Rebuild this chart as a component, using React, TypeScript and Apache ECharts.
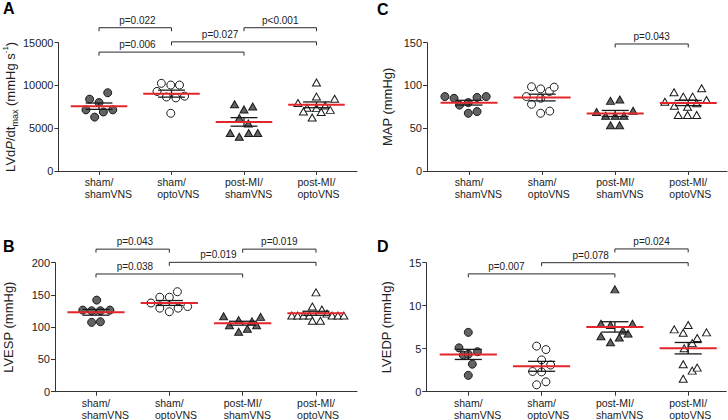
import { useEffect, useRef } from 'react';
import * as echarts from 'echarts';

const FONT = '"Liberation Sans", Arial, Helvetica, sans-serif';

const categories = ['sham/\nshamVNS', 'sham/\noptoVNS', 'post-MI/\nshamVNS', 'post-MI/\noptoVNS'];
const catIndex = [0, 1, 2, 3];

// Panel A: LVdP/dtmax (mmHg s-1)
const aShamSham = [9150, 8400, 8000, 7150, 6900, 7150, 6300];
const aShamShamJit = [0.12, -0.13, 0, -0.18, 0.06, 0.19, -0.06];
const aShamOpto = [10250, 10050, 10050, 9300, 8650, 8550, 8750, 6750];
const aShamOptoJit = [-0.14, -0.01, 0.11, -0.2, -0.07, 0.06, 0.18, -0.01];
const aMiSham = [7800, 7200, 7550, 6200, 5550, 4450, 4000, 4450, 4450];
const aMiShamJit = [-0.13, 0, 0.12, -0.065, 0.06, -0.19, -0.065, 0.065, 0.19];
const aMiOpto = [10350, 8700, 8450, 7950, 7400, 7350, 7650, 6950, 6900, 7150, 6250];
const aMiOptoJit = [0, 0, 0.25, -0.255, -0.13, 0, 0.12, -0.18, 0.065, 0.19, -0.06];
const aTicks = { max: 15000, interval: 5000 };
const aBrackets = [
  { from: 0, to: 1, level: 16750, labelAt: 0.53, text: 'p=0.022' },
  { from: 2, to: 3, level: 16750, labelAt: 2.5, text: 'p<0.001' },
  { from: 1, to: 3, level: 15100, labelAt: 1.67, text: 'p=0.027' },
  { from: 0, to: 2, level: 13900, labelAt: 0.53, text: 'p=0.006' },
];

// Panel B: LVESP (mmHg)
const bShamSham = [142, 126.5, 125.5, 125.5, 126.5, 107.5, 108.5];
const bShamShamJit = [0.01, -0.18, -0.06, 0.06, 0.19, -0.06, 0.06];
const bShamOpto = [155, 137.5, 146.5, 146.5, 129.5, 124, 129.5, 132];
const bShamOptoJit = [0.11, -0.25, -0.13, 0, -0.13, 0, 0.12, 0.25];
const bMiSham = [117, 111, 116, 103, 109, 103, 97.5, 93];
const bMiShamJit = [-0.26, -0.055, 0.245, -0.18, 0.127, 0.19, 0.064, -0.055];
const bMiOpto = [154, 132, 127.5, 118, 118, 118, 118, 121, 118, 118, 118, 110, 110];
const bMiOptoJit = [0, -0.05, 0.08, -0.33, -0.25, -0.17, -0.09, 0.15, 0.22, 0.3, 0.38, -0.05, 0.06];
const bTicks = { max: 200, interval: 50 };
const bBrackets = [
  { from: 0, to: 1, level: 221, labelAt: 0.53, text: 'p=0.043' },
  { from: 2, to: 3, level: 221, labelAt: 2.5, text: 'p=0.019' },
  { from: 1, to: 3, level: 200.6, labelAt: 1.67, text: 'p=0.019' },
  { from: 0, to: 2, level: 182.5, labelAt: 0.53, text: 'p=0.038' },
];

// Panel C: MAP (mmHg)
const cShamSham = [87, 85, 77, 80, 86, 87, 67.5, 69.5];
const cShamShamJit = [-0.33, -0.205, -0.13, -0.01, 0.11, 0.235, -0.01, 0.11];
const cShamOpto = [98.5, 96, 93, 98, 87, 85, 78, 67.5, 70];
const cShamOptoJit = [-0.145, -0.02, 0.1, 0.165, -0.215, -0.02, -0.145, -0.02, 0.105];
const cMiSham = [82, 83.5, 69, 70.5, 64.5, 64.5, 64.5, 53.5, 53.5];
const cMiShamJit = [-0.064, 0.063, -0.255, 0.245, -0.13, 0, 0.12, -0.064, 0.06];
const cMiOpto = [96.7, 92, 87, 87, 81, 83, 76.3, 75.2, 79.2, 65.5, 65.5, 65.5];
const cMiOptoJit = [0.183, -0.195, -0.068, 0.06, -0.32, 0.25, -0.19, -0.01, 0.115, -0.137, -0.01, 0.115];
const cTicks = { max: 150, interval: 50 };
const cBrackets = [{ from: 2, to: 3, level: 148.5, labelAt: 2.5, text: 'p=0.043' }];

// Panel D: LVEDP (mmHg)
const dShamSham = [6.9, 5.1, 4.65, 4.25, 4.35, 3.2, 1.9];
const dShamShamJit = [0, -0.127, 0.125, -0.068, 0, 0.055, 0];
const dShamOpto = [5.3, 4.9, 3.7, 3.1, 2.35, 2.3, 1.15, 0.8];
const dShamOptoJit = [-0.068, 0.059, 0, 0.123, -0.123, 0, 0.059, -0.068];
const dMiSham = [11.9, 7.9, 7.75, 7.9, 7.1, 6.75, 6.45, 6.3, 5.75];
const dMiShamJit = [0, -0.19, -0.06, 0.24, 0.11, 0.18, -0.19, 0.06, -0.06];
const dMiOpto = [7.25, 7.75, 6.85, 6.9, 6.25, 5.65, 5.05, 3.2, 2.45, 2.8, 1.5];
const dMiOptoJit = [-0.19, 0, -0.068, 0.25, 0.123, 0.055, -0.055, -0.068, 0.055, 0.123, -0.068];
const dTicks = { max: 15, interval: 5 };
const dBrackets = [
  { from: 2, to: 3, level: 16.6, labelAt: 2.5, text: 'p=0.024' },
  { from: 1, to: 3, level: 15, labelAt: 1.67, text: 'p=0.078' },
  { from: 0, to: 2, level: 13.7, labelAt: 0.52, text: 'p=0.007' },
];

const RED = '#e3262b';
const INK = '#1a1a1a';
const AXIS = '#333333';
const GRAY_FILL = '#636363';
const CAT_FONT_SIZE = 10.5;

type Bracket = { from: number; to: number; level: number; labelAt: number; text: string };

function stats(v: number[]) {
  const n = v.length;
  const m = v.reduce((a, b) => a + b, 0) / n;
  const sd = Math.sqrt(v.reduce((a, b) => a + (b - m) * (b - m), 0) / (n - 1));
  return [m, sd / Math.sqrt(n)];
}

let measureCtx: CanvasRenderingContext2D | null = null;
function measure(t: string, size: number) {
  if (!measureCtx) measureCtx = document.createElement('canvas').getContext('2d');
  if (!measureCtx) return t.length * size * 0.55;
  measureCtx.font = `${size}px ${FONT}`;
  return measureCtx.measureText(t).width;
}

const panels = [
  {
    key: 'A',
    groups: [[aShamSham, aShamShamJit], [aShamOpto, aShamOptoJit], [aMiSham, aMiShamJit], [aMiOpto, aMiOptoJit]],
    ticks: aTicks,
    brackets: aBrackets,
    name: '{n|LVd}{i|P}{n|/dt}{sub|max}{n| (mmHg s}{sup|-1}{n|)}',
    grid: { left: 55, top: 42.7, width: 302, height: 128.3 },
    xr: [-0.559, 3.559],
    nameGap: 38,
  },
  {
    key: 'B',
    groups: [[bShamSham, bShamShamJit], [bShamOpto, bShamOptoJit], [bMiSham, bMiShamJit], [bMiOpto, bMiOptoJit]],
    ticks: bTicks,
    brackets: bBrackets,
    name: '{n|LVESP (mmHg)}',
    grid: { left: 55, top: 262.7, width: 302, height: 129 },
    xr: [-0.559, 3.559],
    nameGap: 38,
  },
  {
    key: 'C',
    groups: [[cShamSham, cShamShamJit], [cShamOpto, cShamOptoJit], [cMiSham, cMiShamJit], [cMiOpto, cMiOptoJit]],
    ticks: cTicks,
    brackets: cBrackets,
    name: '{n|MAP (mmHg)}',
    grid: { left: 427, top: 42.7, width: 300, height: 128.3 },
    xr: [-0.575, 3.53],
    nameGap: 31,
  },
  {
    key: 'D',
    groups: [[dShamSham, dShamShamJit], [dShamOpto, dShamOptoJit], [dMiSham, dMiShamJit], [dMiOpto, dMiOptoJit]],
    ticks: dTicks,
    brackets: dBrackets,
    name: '{n|LVEDP (mmHg)}',
    grid: { left: 426.3, top: 262.7, width: 300, height: 129 },
    xr: [-0.573, 3.52],
    nameGap: 31,
  },
];

const groupStyle = [
  { symbol: 'circle', size: 8, fill: GRAY_FILL },
  { symbol: 'circle', size: 8, fill: '#ffffff' },
  { symbol: 'triangle', size: [8, 7], fill: GRAY_FILL },
  { symbol: 'triangle', size: [8, 7], fill: '#ffffff' },
];

function buildOption() {
  const grid: any[] = [];
  const xAxis: any[] = [];
  const yAxis: any[] = [];
  const series: any[] = [];
  const graphic: any[] = [];

  panels.forEach((p, pi) => {
    grid.push({ ...p.grid });
    xAxis.push({
      type: 'value',
      gridIndex: pi,
      min: p.xr[0],
      max: p.xr[1],
      axisLine: { show: true, onZero: false, lineStyle: { color: AXIS, width: 1 } },
      axisTick: { show: true, customValues: catIndex, length: 4, lineStyle: { color: AXIS } },
      axisLabel: { show: false },
      splitLine: { show: false },
    });
    yAxis.push({
      type: 'value',
      gridIndex: pi,
      min: 0,
      max: p.ticks.max,
      interval: p.ticks.interval,
      axisLine: { show: true, onZero: false, lineStyle: { color: AXIS, width: 1 } },
      axisTick: { show: true, length: 4, lineStyle: { color: AXIS } },
      axisLabel: {
        fontSize: 11,
        color: '#222',
        margin: 5,
        fontFamily: FONT,
        formatter: (v: number) => String(v),
      },
      splitLine: { show: false },
      name: p.name,
      nameLocation: 'middle',
      nameGap: p.nameGap,
      nameTextStyle: {
        fontFamily: FONT,
        color: '#222',
        rich: {
          n: { fontSize: 13, lineHeight: 18, fontFamily: FONT, color: '#222' },
          i: { fontSize: 13, lineHeight: 18, fontStyle: 'italic', fontFamily: FONT, color: '#222' },
          sub: { fontSize: 9, lineHeight: 9, verticalAlign: 'bottom', fontFamily: FONT, color: '#222' },
          sup: { fontSize: 8, lineHeight: 8, verticalAlign: 'top', fontFamily: FONT, color: '#222' },
        },
      },
    });

    p.groups.forEach((g, gi) => {
      const [vals, jit] = g as [number[], number[]];
      const st = groupStyle[gi];
      series.push({
        type: 'scatter',
        xAxisIndex: pi,
        yAxisIndex: pi,
        symbol: st.symbol,
        symbolSize: st.size,
        z: 2,
        itemStyle: { color: st.fill, borderColor: INK, borderWidth: 1, opacity: 1 },
        data: vals.map((v, i) => [gi + jit[i], v]),
        silent: true,
      });
    });

    // category labels: first line centred on tick, second line left-aligned with it
    series.push({
      type: 'custom',
      xAxisIndex: pi,
      yAxisIndex: pi,
      silent: true,
      clip: false,
      z: 3,
      data: catIndex.map((i) => [i, 0]),
      renderItem: (params: any, api: any) => {
        const i = params.dataIndex;
        const pt = api.coord([api.value(0), 0]);
        const first = categories[i].split('\n')[0];
        const w1 = measure(first, CAT_FONT_SIZE);
        return {
          type: 'text',
          x: pt[0] - w1 / 2,
          y: pt[1] + 5,
          style: {
            text: categories[i],
            fontSize: CAT_FONT_SIZE,
            lineHeight: 12,
            fontFamily: FONT,
            fill: '#222',
            align: 'left',
            verticalAlign: 'top',
          },
        };
      },
    });

    const statData = p.groups.map((g, gi) => {
      const [m, s] = stats((g as [number[], number[]])[0]);
      return [gi, m, s];
    });
    series.push({
      type: 'custom',
      xAxisIndex: pi,
      yAxisIndex: pi,
      z: 4,
      silent: true,
      data: statData,
      renderItem: (_params: any, api: any) => {
        const c = api.value(0);
        const m = api.value(1);
        const s = api.value(2);
        const top = api.coord([c, m + s]);
        const bot = api.coord([c, m - s]);
        const tl = api.coord([c - 0.185, m + s]);
        const tr = api.coord([c + 0.185, m + s]);
        const bl = api.coord([c - 0.185, m - s]);
        const br = api.coord([c + 0.185, m - s]);
        const ml = api.coord([c - 0.39, m]);
        const mr = api.coord([c + 0.39, m]);
        const black = { stroke: INK, lineWidth: 1.3 };
        return {
          type: 'group',
          children: [
            { type: 'line', shape: { x1: top[0], y1: top[1], x2: bot[0], y2: bot[1] }, style: black },
            { type: 'line', shape: { x1: tl[0], y1: tl[1], x2: tr[0], y2: tr[1] }, style: black },
            { type: 'line', shape: { x1: bl[0], y1: bl[1], x2: br[0], y2: br[1] }, style: black },
            { type: 'line', shape: { x1: ml[0], y1: ml[1], x2: mr[0], y2: mr[1] }, style: { stroke: RED, lineWidth: 2 } },
          ],
        };
      },
    });

    const br: Bracket[] = p.brackets;
    series.push({
      type: 'custom',
      xAxisIndex: pi,
      yAxisIndex: pi,
      z: 5,
      silent: true,
      clip: false,
      data: br.map((b) => [b.from, b.level, b.to, b.labelAt]),
      renderItem: (params: any, api: any) => {
        const b = br[params.dataIndex];
        const a = api.coord([b.from, b.level]);
        const c = api.coord([b.to, b.level]);
        const t = api.coord([b.labelAt, b.level]);
        const drop = 3.5;
        return {
          type: 'group',
          children: [
            {
              type: 'polyline',
              shape: { points: [[a[0], a[1] + drop], [a[0], a[1]], [c[0], c[1]], [c[0], c[1] + drop]] },
              style: { stroke: '#2a2a2a', lineWidth: 1, fill: 'none' },
            },
            {
              type: 'text',
              x: t[0],
              y: t[1] - 7.5,
              style: {
                text: b.text,
                fontSize: 10,
                fontFamily: FONT,
                fill: '#222',
                align: 'center',
                verticalAlign: 'middle',
              },
            },
          ],
        };
      },
    });
  });

  const letters = [
    { t: 'A', x: 3, y: 0 },
    { t: 'B', x: 3, y: 238 },
    { t: 'C', x: 377, y: 1 },
    { t: 'D', x: 377, y: 238 },
  ];
  letters.forEach((l) =>
    graphic.push({
      type: 'text',
      left: l.x,
      top: l.y,
      style: { text: l.t, fontSize: 16, fontWeight: 'bold', fontFamily: FONT, fill: '#000' },
    })
  );

  return {
    animation: false,
    backgroundColor: '#ffffff',
    textStyle: { fontFamily: FONT },
    grid,
    xAxis,
    yAxis,
    series,
    graphic,
  };
}

export default function App() {
  const ref = useRef<HTMLDivElement>(null);
  useEffect(() => {
    if (!ref.current) return;
    const chart = echarts.init(ref.current, undefined, { renderer: 'svg' });
    chart.setOption(buildOption() as any);
    return () => chart.dispose();
  }, []);
  return (
    <div
      ref={ref}
      style={{ position: 'fixed', left: 0, top: 0, width: 728, height: 420, background: '#fff' }}
    />
  );
}
